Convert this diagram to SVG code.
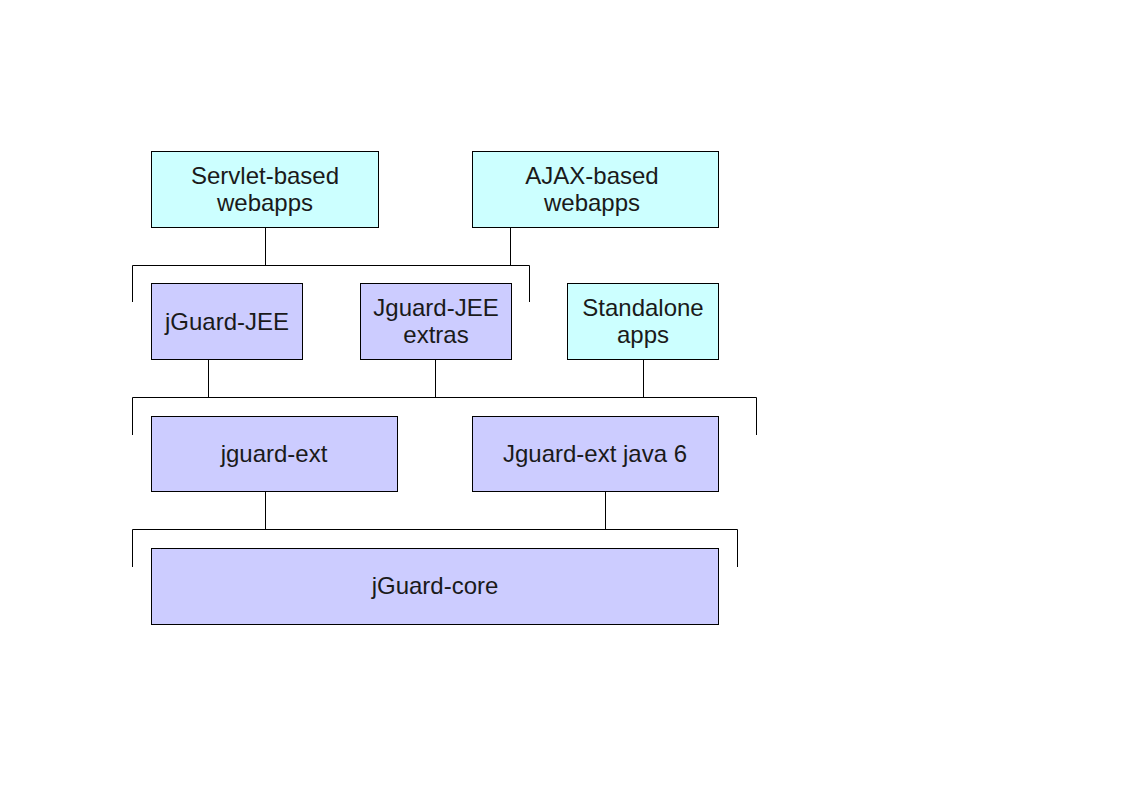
<svg xmlns="http://www.w3.org/2000/svg" width="1123" height="794" viewBox="0 0 1123 794">
<style>
.n rect{stroke:#000;stroke-width:1}
.c{fill:#ccffff}
.p{fill:#ccccff}
text{font-family:"Liberation Sans",Arial,sans-serif;font-size:24px;fill:#1a1a1a;text-anchor:middle}
#connectors path{fill:none;stroke:#000;stroke-width:1}
</style>
<rect width="1123" height="794" fill="#fff"/>
<g id="connectors">
<path d="M265.5 227V265.5M510.5 227V265.5M132.5 302V265.5H529.5V302"/>
<path d="M208.5 359V397.5M435.5 359V397.5M643.5 359V397.5M132.5 435V397.5H756.5V435"/>
<path d="M265.5 491V529.5M605.5 491V529.5M132.5 567V529.5H737.5V567"/>
</g>
<g id="servlet" class="n"><rect class="c" x="151.5" y="151.5" width="227" height="76"/><text x="265" y="184">Servlet-based</text><text x="265" y="211">webapps</text></g>
<g id="ajax" class="n"><rect class="c" x="472.5" y="151.5" width="246" height="76"/><text x="592" y="184">AJAX-based</text><text x="592" y="211">webapps</text></g>
<g id="jee" class="n"><rect class="p" x="151.5" y="283.5" width="151" height="76"/><text x="227" y="330">jGuard-JEE</text></g>
<g id="jeeextras" class="n"><rect class="p" x="360.5" y="283.5" width="151" height="76"/><text x="436" y="316">Jguard-JEE</text><text x="436" y="343">extras</text></g>
<g id="standalone" class="n"><rect class="c" x="567.5" y="283.5" width="151" height="76"/><text x="643" y="316">Standalone</text><text x="643" y="343">apps</text></g>
<g id="ext" class="n"><rect class="p" x="151.5" y="416.5" width="246" height="75"/><text x="274" y="462">jguard-ext</text></g>
<g id="ext6" class="n"><rect class="p" x="472.5" y="416.5" width="246" height="75"/><text x="595" y="462">Jguard-ext java 6</text></g>
<g id="core" class="n"><rect class="p" x="151.5" y="548.5" width="567" height="76"/><text x="435" y="594">jGuard-core</text></g>
</svg>
